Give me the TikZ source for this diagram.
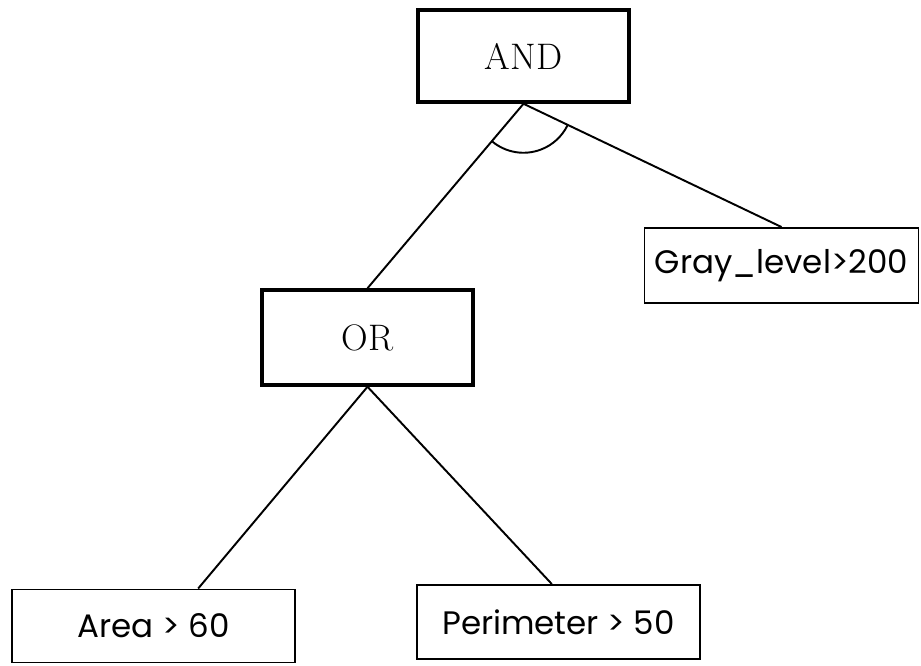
\documentclass[tikz,border=0pt]{standalone}
\usepackage{fontspec}
\usepackage{tikz}
\newfontfamily\leaffont{Poppins}

\tikzset{gate/.style={draw=black,line width=2pt,inner sep=0pt,minimum width=42.2mm,font=\fontsize{21}{25}\selectfont},
test/.style={draw=black,line width=1.1pt,inner sep=0pt,minimum width=56.6mm,minimum height=14.6mm,font=\leaffont\fontsize{18.5}{22}\selectfont},
branch/.style={black,line width=1.1pt}}

\begin{document}
\begin{tikzpicture}[x=0.2mm,y=0.2mm]
\useasboundingbox (0,0) rectangle (921,-665);
% rule nodes
\node [gate,minimum height=18.4mm] (and) at (523.5,-56) {AND};
\node [gate,minimum height=19mm] (or) at (367.5,-337.5) {OR};
\node [test,minimum width=54.8mm,minimum height=15mm] (gray) at (781.5,-265.5) {Gray\_level>200};
\node [test] (area) at (153.5,-626) {Area > 60};
\node [test,minimum height=14.8mm] (perim) at (558.5,-622) {Perimeter > 50};
% branches
\draw [branch] (and.south) -- (or.north);
\draw [branch] (and.south) -- (gray.north);
\draw [branch] ([shift={(230.3:9.8mm)}]and.south) arc [start angle=230.3,end angle=334,radius=9.8mm];
\draw [branch] (or.south) -- (area.40);
\draw [branch] (or.south) -- (perim.100);
\end{tikzpicture}
\end{document}
